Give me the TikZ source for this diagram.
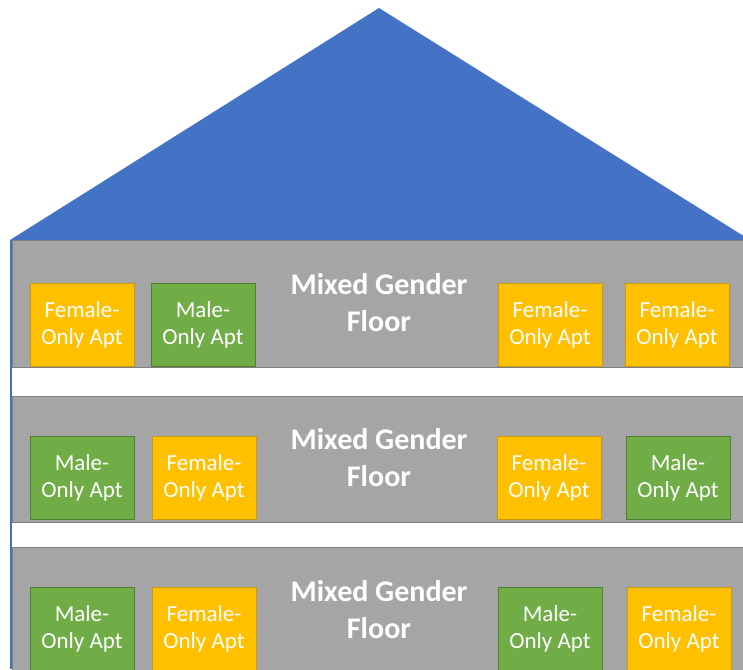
\documentclass[tikz,border=0pt]{standalone}
\usepackage{fontspec}
\setmainfont{Carlito}
\definecolor{roofblue}{HTML}{4472C4}
\definecolor{floorgray}{HTML}{A5A5A5}
\definecolor{flooredge}{HTML}{7F7F7F}
\definecolor{femfill}{HTML}{FFC000}
\definecolor{femedge}{HTML}{C89A10}
\definecolor{malefill}{HTML}{70AD47}
\definecolor{maleedge}{HTML}{507E32}

\begin{document}
\begin{tikzpicture}[x=1pt,y=-1pt,
  apt/.style={draw,line width=0.8pt,minimum width=104pt,minimum height=83pt,inner sep=0pt,
    align=center,text=white,font=\fontsize{23}{27}\selectfont},
  femapt/.style={apt,fill=femfill,draw=femedge},
  maleapt/.style={apt,fill=malefill,draw=maleedge},
  floorlabel/.style={align=center,text=white,font=\bfseries\fontsize{30}{37}\selectfont}]
  \clip (0,0) rectangle (743,669);
  % roof and walls
  \fill[roofblue] (10,240) -- (379,8) -- (750,240) -- cycle;
  \fill[floorgray,draw=flooredge,line width=0.6pt] (12,240) rectangle (760,367);
  \fill[floorgray,draw=flooredge,line width=0.6pt] (12,396) rectangle (760,522);
  \fill[floorgray,draw=flooredge,line width=0.6pt] (12,547) rectangle (760,680);
  \draw[roofblue,line width=1.2pt] (11,240) -- (11,669);
  % top floor
  \node[femapt] (f1a) at (82,325) {Female-\\Only Apt};
  \node[maleapt] (f1b) at (203,325) {Male-\\Only Apt};
  \node[femapt] (f1c) at (550,325) {Female-\\Only Apt};
  \node[femapt] (f1d) at (677,325) {Female-\\Only Apt};
  \node[floorlabel] (lab1) at (379,303) {Mixed Gender\\Floor};
  % middle floor
  \node[maleapt] (f2a) at (82,478) {Male-\\Only Apt};
  \node[femapt] (f2b) at (204,478) {Female-\\Only Apt};
  \node[femapt] (f2c) at (549,478) {Female-\\Only Apt};
  \node[maleapt] (f2d) at (678,478) {Male-\\Only Apt};
  \node[floorlabel] (lab2) at (379,458) {Mixed Gender\\Floor};
  % bottom floor
  \node[maleapt] (f3a) at (82,629) {Male-\\Only Apt};
  \node[femapt] (f3b) at (204,629) {Female-\\Only Apt};
  \node[maleapt] (f3c) at (550,629) {Male-\\Only Apt};
  \node[femapt] (f3d) at (679,629) {Female-\\Only Apt};
  \node[floorlabel] (lab3) at (379,610) {Mixed Gender\\Floor};
\end{tikzpicture}
\end{document}
